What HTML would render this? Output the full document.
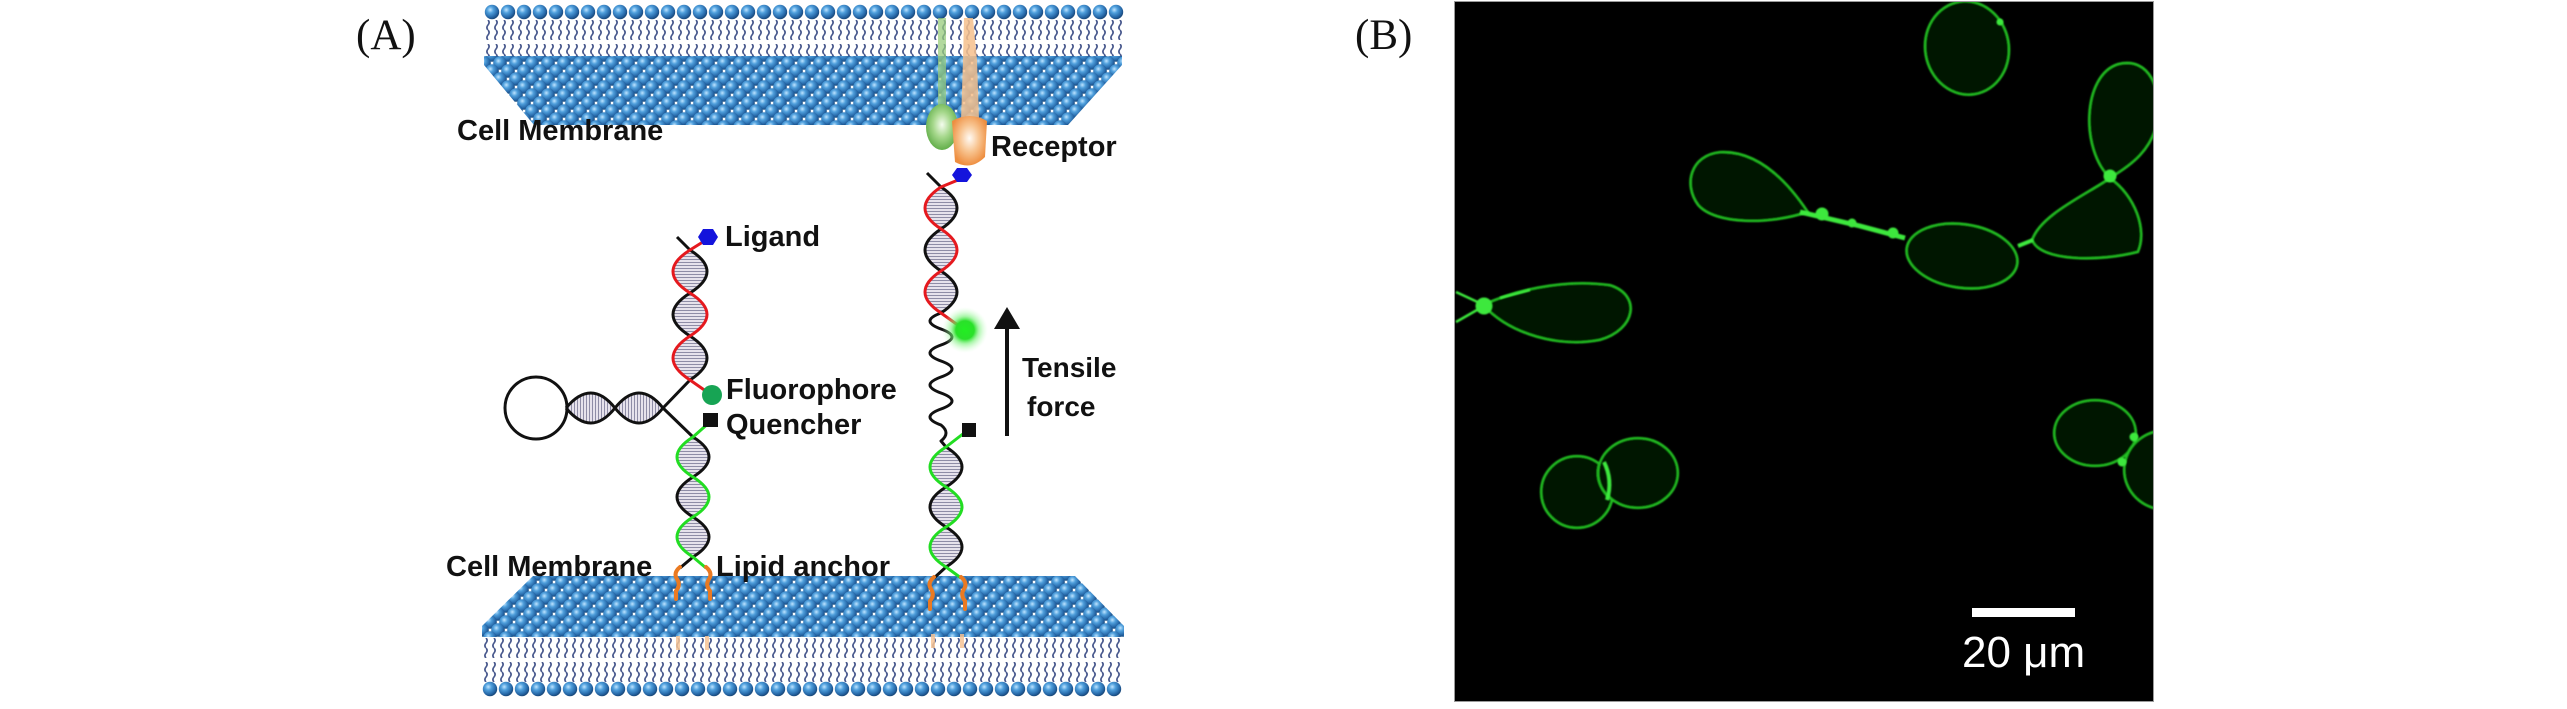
<!DOCTYPE html>
<html><head><meta charset="utf-8"><style>
html,body{margin:0;padding:0;background:#fff;}
body{width:2567px;height:709px;overflow:hidden;}
svg{display:block;}
.lb{font-family:"Liberation Sans",Arial,sans-serif;font-weight:bold;font-size:29px;fill:#111;}
.pl{font-family:"Liberation Serif","Times New Roman",serif;font-size:43px;fill:#111;}
</style></head><body>
<svg width="2567" height="709" viewBox="0 0 2567 709" xmlns="http://www.w3.org/2000/svg">
<defs>
  <radialGradient id="sph" cx="38%" cy="35%" r="65%">
    <stop offset="0" stop-color="#bfe4ff"/>
    <stop offset="0.35" stop-color="#4f9fdc"/>
    <stop offset="0.8" stop-color="#2566a6"/>
    <stop offset="1" stop-color="#1a4a7c"/>
  </radialGradient>
  <pattern id="heads" width="16" height="16" patternUnits="userSpaceOnUse">
    <circle cx="8" cy="8" r="7.2" fill="url(#sph)"/>
  </pattern>
  <pattern id="face" width="16" height="16" patternUnits="userSpaceOnUse">
    <circle cx="0" cy="0" r="6.8" fill="url(#sph)"/>
    <circle cx="16" cy="0" r="6.8" fill="url(#sph)"/>
    <circle cx="8" cy="8" r="6.8" fill="url(#sph)"/>
    <circle cx="0" cy="16" r="6.8" fill="url(#sph)"/>
    <circle cx="16" cy="16" r="6.8" fill="url(#sph)"/>
  </pattern>
  <pattern id="tails" width="8" height="10" patternUnits="userSpaceOnUse">
    <path d="M4,0 q2.2,2.5 0,5 q-2.2,2.5 0,5" fill="none" stroke="#4a5a8e" stroke-width="1.7"/>
  </pattern>
  <pattern id="hatchH" width="6" height="3" patternUnits="userSpaceOnUse">
    <rect width="6" height="3" fill="#e6e2ec"/>
    <line x1="0" y1="1.5" x2="6" y2="1.5" stroke="#8e8ca6" stroke-width="1"/>
  </pattern>
  <pattern id="hatchV" width="3" height="6" patternUnits="userSpaceOnUse">
    <rect width="3" height="6" fill="#e6e2ec"/>
    <line x1="1.5" y1="0" x2="1.5" y2="6" stroke="#8e8ca6" stroke-width="1"/>
  </pattern>
  <radialGradient id="glow" cx="50%" cy="50%" r="50%">
    <stop offset="0" stop-color="#22ee22"/>
    <stop offset="0.4" stop-color="#2ae02a"/>
    <stop offset="0.6" stop-color="#70f070" stop-opacity="0.6"/>
    <stop offset="1" stop-color="#d0ffd0" stop-opacity="0"/>
  </radialGradient>
  <radialGradient id="gblob" cx="50%" cy="45%" r="55%">
    <stop offset="0" stop-color="#f4fcee"/>
    <stop offset="0.5" stop-color="#a6d88c"/>
    <stop offset="1" stop-color="#62ae4a"/>
  </radialGradient>
  <radialGradient id="oblob" cx="50%" cy="45%" r="55%">
    <stop offset="0" stop-color="#fffaf4"/>
    <stop offset="0.5" stop-color="#f8c490"/>
    <stop offset="1" stop-color="#ee8e40"/>
  </radialGradient>
  <filter id="soft" x="-10%" y="-10%" width="120%" height="120%">
    <feGaussianBlur stdDeviation="0.9"/>
  </filter>
  <clipPath id="boxclip"><rect x="1455" y="2" width="698" height="699"/></clipPath>
</defs>

<!-- Panel labels -->
<text class="pl" x="356" y="49">(A)</text>
<text class="pl" x="1355" y="49">(B)</text>

<!-- ===== TOP MEMBRANE ===== -->
<g transform="translate(484,4)"><rect width="640" height="16" fill="url(#heads)"/></g>
<g transform="translate(484,20)"><rect width="640" height="20" fill="url(#tails)"/></g>
<g transform="translate(484,44)"><rect width="640" height="20" fill="url(#tails)"/></g>
<g transform="translate(484,63)"><polygon points="0,-7 638,-7 638,2 584,62 50,62 0,2" fill="url(#face)"/></g>

<!-- receptor -->
<rect x="938" y="18" width="8" height="92" fill="#98cc7c" opacity="0.75"/>
<polygon points="964,18 973,18 977,60 979,120 961,120 963,60" fill="#f6bf8c" opacity="0.85"/>
<ellipse cx="942" cy="127" rx="16" ry="23" fill="url(#gblob)"/>
<path d="M952,121 Q970,111 987,121 L985,157 Q971,171 955,162 Z" fill="url(#oblob)"/>
<text class="lb" x="991" y="156">Receptor</text>

<text class="lb" x="457" y="140">Cell Membrane</text>

<!-- ===== BOTTOM MEMBRANE ===== -->
<g transform="translate(482,638)"><rect width="642" height="20" fill="url(#tails)"/></g>
<g transform="translate(482,662)"><rect width="642" height="20" fill="url(#tails)"/></g>
<g transform="translate(482,681)"><rect width="640" height="16" fill="url(#heads)"/></g>
<g transform="translate(482,582)"><polygon points="51,-6 593,-6 642,44 642,55 0,55 0,44" fill="url(#face)"/></g>
<!-- faint anchor traces through tails -->
<g stroke="#f6c496" stroke-width="4" opacity="0.85">
  <line x1="678" y1="636" x2="678" y2="650"/><line x1="707" y1="636" x2="707" y2="650"/>
  <line x1="933" y1="634" x2="933" y2="648"/><line x1="962" y1="634" x2="962" y2="648"/>
</g>

<text class="lb" x="446" y="576">Cell Membrane</text>
<text class="lb" x="716" y="576">Lipid anchor</text>

<!-- ===== LEFT DNA ===== -->
<circle cx="536" cy="408" r="31" fill="none" stroke="#111" stroke-width="3"/>
<path d="M567,408 Q591,378 615,408 Q591,438 567,408 Z M615,408 Q639,378 663,408 Q639,438 615,408 Z" fill="url(#hatchV)"/>
<path d="M566,408 Q591,378 615,408 Q639,438 663,408 M566,408 Q591,438 615,408 Q639,378 663,408" fill="none" stroke="#111" stroke-width="3"/>
<path d="M690,250 Q656,271.5 690,293 Q724,271.5 690,250 Z M690,293 Q724,314.5 690,336 Q656,314.5 690,293 Z M690,336 Q656,358 690,380 Q724,358 690,336 Z" fill="url(#hatchH)"/>
<path d="M677,237 L690,250 Q724,271.5 690,293 Q656,314.5 690,336 Q724,358 690,380 L663,408 L693,437" fill="none" stroke="#111" stroke-width="3" stroke-linejoin="round"/>
<path d="M706,240 L690,250 Q656,271.5 690,293 Q724,314.5 690,336 Q656,358 690,380 L710,394" fill="none" stroke="#e5191e" stroke-width="3" stroke-linejoin="round"/>
<path d="M693,437 Q661,457 693,477 Q725,457 693,437 Z M693,477 Q725,497 693,517 Q661,497 693,477 Z M693,517 Q661,537 693,557 Q725,537 693,517 Z" fill="url(#hatchH)"/>
<path d="M693,437 Q725,457 693,477 Q661,497 693,517 Q725,537 693,557 L680,568" fill="none" stroke="#111" stroke-width="3" stroke-linejoin="round"/>
<path d="M711,421 L693,437 Q661,457 693,477 Q725,497 693,517 Q661,537 693,557 L706,568" fill="none" stroke="#22dd22" stroke-width="3" stroke-linejoin="round"/>
<path d="M680,567 q-7,6 -3,12 q4,6 -1,12 l0,8 M706,567 q7,6 3,12 q-4,6 1,12 l0,8" fill="none" stroke="#ea7a22" stroke-width="4" stroke-linecap="round"/>
<polygon points="698,237 703,229 713,229 718,237 713,245 703,245" fill="#1414dc"/>
<circle cx="712" cy="395" r="10" fill="#17a454"/>
<rect x="703" y="413" width="15" height="14" fill="#111"/>
<text class="lb" x="725" y="246">Ligand</text>
<text class="lb" x="726" y="399">Fluorophore</text>
<text class="lb" x="726" y="434">Quencher</text>

<!-- ===== RIGHT DNA ===== -->
<path d="M941,187 Q909,208 941,229 Q973,208 941,187 Z M941,229 Q973,250 941,271 Q909,250 941,229 Z M941,271 Q909,292 941,313 Q973,292 941,271 Z" fill="url(#hatchH)"/>
<path d="M927,173 L941,187 Q973,208 941,229 Q909,250 941,271 Q973,292 941,313 Q919,321 941,329 Q963,337 941,345 Q919,353 941,361 Q963,369 941,377 Q919,385 941,393 Q963,401 941,409 Q919,417 941,425 Q951,433 941,441 L946,447" fill="none" stroke="#111" stroke-width="3" stroke-linejoin="round"/>
<path d="M958,180 L941,187 Q909,208 941,229 Q973,250 941,271 Q909,292 941,313 L962,328" fill="none" stroke="#e5191e" stroke-width="3" stroke-linejoin="round"/>
<circle cx="965" cy="330" r="23" fill="url(#glow)"/>
<path d="M946,447 Q914,467 946,487 Q978,467 946,447 Z M946,487 Q978,507 946,527 Q914,507 946,487 Z M946,527 Q914,547 946,567 Q978,547 946,527 Z" fill="url(#hatchH)"/>
<path d="M946,447 Q978,467 946,487 Q914,507 946,527 Q978,547 946,567 L934,578" fill="none" stroke="#111" stroke-width="3" stroke-linejoin="round"/>
<path d="M968,430 L946,447 Q914,467 946,487 Q978,507 946,527 Q914,547 946,567 L961,578" fill="none" stroke="#22dd22" stroke-width="3" stroke-linejoin="round"/>
<path d="M934,577 q-7,6 -3,12 q4,6 -1,12 l0,8 M961,577 q7,6 3,12 q-4,6 1,12 l0,8" fill="none" stroke="#ea7a22" stroke-width="4" stroke-linecap="round"/>
<polygon points="952,175 957,168 967,168 972,175 967,182 957,182" fill="#1414dc"/>
<rect x="962" y="423" width="14" height="14" fill="#111"/>

<rect x="1005" y="326" width="4" height="110" fill="#111"/>
<polygon points="994,329 1020,329 1007,307" fill="#111"/>
<text class="lb" x="1022" y="377" style="font-size:28px">Tensile</text>
<text class="lb" x="1027" y="416" style="font-size:28px">force</text>

<!-- ===== PANEL B ===== -->
<rect x="1454.5" y="1.5" width="699" height="700" fill="#000" stroke="#9a9a9a" stroke-width="1"/>
<g clip-path="url(#boxclip)">
 <g fill="#021402" stroke="#22c022" stroke-width="2.3" filter="url(#soft)">
  <ellipse cx="1967" cy="48" rx="42" ry="47" transform="rotate(-10 1967 48)"/>
  <path d="M2110,178 C2080,150 2082,75 2118,64 C2150,56 2162,90 2158,120 C2152,150 2132,165 2110,178 Z"/>
  <path d="M2110,178 C2085,195 2040,215 2032,240 C2040,262 2100,262 2138,252 C2148,230 2135,195 2110,178 Z"/>
  <ellipse cx="1962" cy="256" rx="56" ry="32" transform="rotate(8 1962 256)"/>
  <path d="M1808,212 C1790,185 1760,150 1720,152 C1690,155 1683,185 1698,205 C1715,225 1770,225 1808,212 Z"/>
  <path d="M1483,305 C1510,292 1560,278 1610,285 C1642,295 1636,330 1600,340 C1560,348 1510,335 1483,305 Z"/>
  <circle cx="1577" cy="492" r="36"/>
  <ellipse cx="1638" cy="473" rx="40" ry="35"/>
  <ellipse cx="2095" cy="433" rx="41" ry="33"/>
  <ellipse cx="2166" cy="470" rx="42" ry="40"/>
 </g>
 <g stroke="#3de83d" fill="#3de83d" filter="url(#soft)">
  <path d="M1800,212 L1860,226 L1905,238" stroke-width="5" fill="none"/>
  <circle cx="1822" cy="214" r="6"/>
  <circle cx="1852" cy="223" r="4"/>
  <circle cx="1893" cy="233" r="5"/>
  <path d="M2018,246 L2033,240" stroke-width="4" fill="none"/>
  <circle cx="2110" cy="176" r="6"/>
  <circle cx="2000" cy="22" r="3"/>
  <circle cx="1484" cy="306" r="8"/>
  <path d="M1484,305 L1456,292 M1484,306 L1456,322 M1500,298 L1530,290" stroke-width="2.5" fill="none"/>
  <path d="M1604,462 Q1613,480 1607,500" stroke-width="4" fill="none"/>
  <circle cx="2134" cy="437" r="4"/>
  <circle cx="2122" cy="462" r="4"/>
 </g>
</g>
<rect x="1972" y="608" width="103" height="9" fill="#fff"/>
<text x="1962" y="667" style="font-family:'Liberation Sans',Arial,sans-serif;font-size:44px;fill:#fff;">20 μm</text>
</svg>
</body></html>
